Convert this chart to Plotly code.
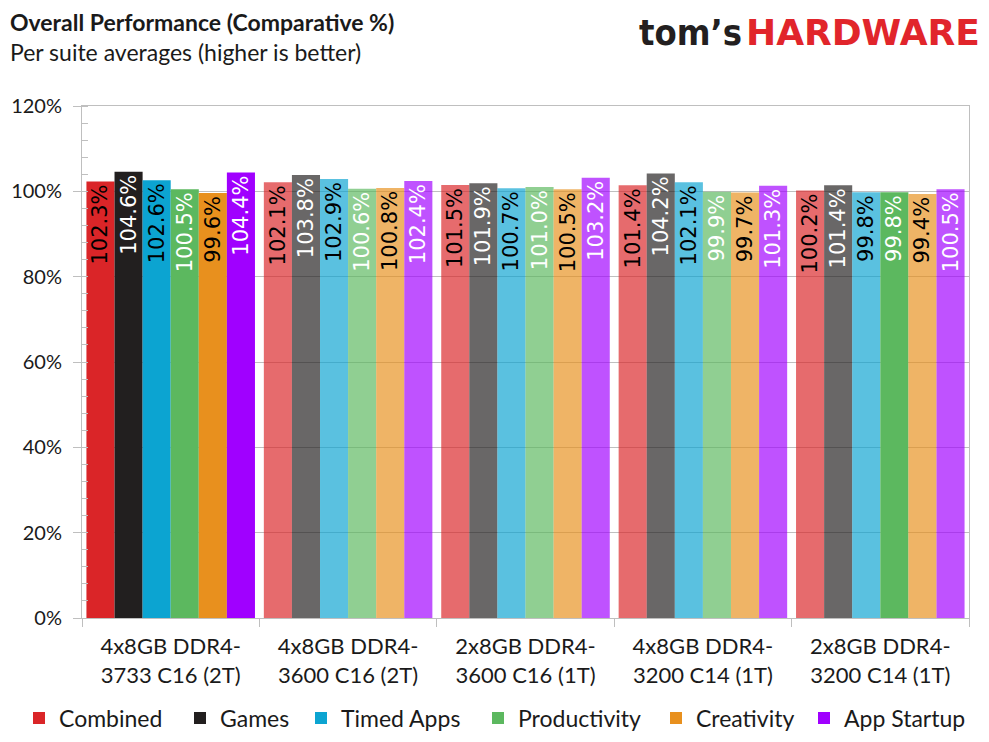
import plotly.graph_objects as go

configs = [
    "4x8GB DDR4-<br>3733 C16 (2T)",
    "4x8GB DDR4-<br>3600 C16 (2T)",
    "2x8GB DDR4-<br>3600 C16 (1T)",
    "4x8GB DDR4-<br>3200 C14 (1T)",
    "2x8GB DDR4-<br>3200 C14 (1T)",
]
combined = [102.3, 102.1, 101.5, 101.4, 100.2]
games = [104.6, 103.8, 101.9, 104.2, 101.4]
timed_apps = [102.6, 102.9, 100.7, 102.1, 99.8]
productivity = [100.5, 100.6, 101.0, 99.9, 99.8]
creativity = [99.6, 100.8, 100.5, 99.7, 99.4]
app_startup = [104.4, 102.4, 103.2, 101.3, 100.5]

series = [
    ("Combined", combined, "#DA2528", "black"),
    ("Games", games, "#221F1F", "white"),
    ("Timed Apps", timed_apps, "#0CA4D1", "black"),
    ("Productivity", productivity, "#5CB85F", "white"),
    ("Creativity", creativity, "#E8901E", "black"),
    ("App Startup", app_startup, "#A000FF", "white"),
]

# full colour for the highlighted bars, faded for the rest
LIGHT = 0.68
highlight = {"Productivity": [0, 4]}

TXT = "#1a1a1a"
axis_font = dict(family="Lato", size=22, color=TXT)

# page has an 8px body margin, so work in page pixels and shift
OFF = 8
W, H = 989, 742
L, R, T, B = 82 - OFF, 20 + OFF, 106 - OFF, 124 + OFF
PW, PH = W - L - R, H - T - B


def px(x):
    return (x - OFF - L) / PW


def py(y):
    return (H - B - (y - OFF)) / PH


# left edge of each legend swatch on the page
legend_x = [35, 196, 317, 494, 672, 820]

fig = go.Figure()
legends = {}
for k, (name, vals, color, tcolor) in enumerate(series):
    ops = [1.0 if i == 0 or i in highlight.get(name, []) else LIGHT for i in range(len(vals))]
    lname = "legend" if k == 0 else f"legend{k + 1}"
    fig.add_trace(
        go.Bar(
            name=name,
            x=configs,
            y=vals,
            legend=lname,
            marker=dict(color=color, opacity=ops, line=dict(width=0)),
            text=[f"{v:.1f}%" for v in vals],
            textposition="inside",
            insidetextanchor="end",
            textangle=-90,
            constraintext="none",
            textfont=dict(family="DejaVu Sans", size=21, color=tcolor),
            hovertemplate="%{y:.1f}%<extra>" + name + "</extra>",
        )
    )
    legends[lname] = dict(
        orientation="h",
        x=px(legend_x[k] - 16),
        xanchor="left",
        y=py(718),
        yanchor="middle",
        font=dict(family="Lato", size=23, color=TXT),
        itemclick=False,
        bgcolor="rgba(0,0,0,0)",
    )

fig.update_layout(
    width=W,
    height=H,
    barmode="group",
    bargap=0.05,
    bargroupgap=0,
    plot_bgcolor="white",
    paper_bgcolor="white",
    margin=dict(l=L, r=R, t=T, b=B, autoexpand=False),
    font=axis_font,
    showlegend=True,
    **legends,
)

fig.update_yaxes(
    range=[0, 120],
    dtick=20,
    ticksuffix="%",
    showgrid=True,
    gridcolor="#BFBFBF",
    gridwidth=1,
    showline=True,
    linecolor="#BFBFBF",
    linewidth=1,
    mirror=True,
    ticks="outside",
    ticklen=8,
    tickcolor="#BFBFBF",
    ticklabelstandoff=7,
    zeroline=False,
    automargin=False,
    minor=dict(dtick=4, ticks="inside", ticklen=6, tickcolor="#BFBFBF", showgrid=False),
    tickfont=dict(family="Lato", size=20, color=TXT),
)
fig.update_xaxes(
    showline=True,
    linecolor="#BFBFBF",
    linewidth=1,
    mirror=True,
    ticks="outside",
    tickson="boundaries",
    ticklen=8,
    tickcolor="#BFBFBF",
    ticklabelstandoff=9,
    automargin=False,
    tickfont=axis_font,
)

# title block, top left
fig.add_annotation(
    text="<b>Overall Performance (Comparative %)</b>",
    xref="paper", yref="paper", x=px(8), y=py(22),
    xanchor="left", yanchor="middle", showarrow=False,
    font=dict(family="Lato", size=23, color=TXT),
)
fig.add_annotation(
    text="Per suite averages (higher is better)",
    xref="paper", yref="paper", x=px(8), y=py(52),
    xanchor="left", yanchor="middle", showarrow=False,
    font=dict(family="Lato", size=23, color=TXT),
)

# logo, top right
fig.add_annotation(
    text="<b>tom’s</b>",
    xref="paper", yref="paper", x=px(744), y=py(32),
    xanchor="right", yanchor="middle", showarrow=False,
    font=dict(family="DejaVu Sans Condensed", size=36, color="#231F20"),
)
fig.add_annotation(
    text="<b>HARDWARE</b>",
    xref="paper", yref="paper", x=px(744), y=py(32),
    xanchor="left", yanchor="middle", showarrow=False,
    font=dict(family="DejaVu Sans", size=36, color="#E1252B"),
)

fig.write_html("out.html")
